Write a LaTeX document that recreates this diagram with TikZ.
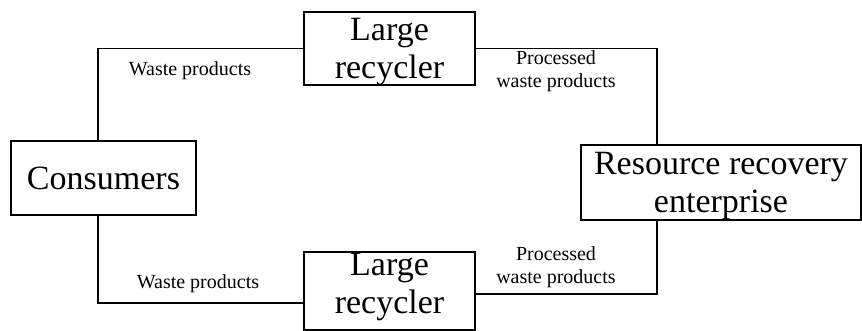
\documentclass[tikz,border=0pt]{standalone}
\usepackage{fontspec}
\setmainfont{Liberation Serif}
\usepackage{tikz}

\tikzset{
  box/.style={draw, line width=1.5pt, align=center, inner sep=0pt,
    font=\fontsize{34}{38}\selectfont},
  flowlabel/.style={align=center, inner sep=0pt,
    font=\fontsize{20}{23}\selectfont},
  link/.style={line width=1.5pt}
}

\begin{document}
\begin{tikzpicture}[x=1pt, y=-1pt]
  \useasboundingbox (0,0) rectangle (862,331);
  \node[box, minimum width=185pt, minimum height=74pt] (cons) at (103.5,178) {Consumers};
  \node[box, minimum width=171pt, minimum height=73pt, text depth=0pt] (top) at (389.5,48.5) {Large\\recycler};
  \node[box, minimum width=171pt, minimum height=78pt, text depth=14.5pt] (bot) at (389.5,291) {Large\\recycler};
  \node[box, minimum width=280pt, minimum height=75pt, text depth=1pt] (res) at (721,182.5) {Resource recovery\\enterprise};
  \draw[link] ([xshift=-5.5pt]cons.north) |- (top.west);
  \draw[link] ([xshift=-5.5pt]cons.south) |- ([yshift=-12pt]bot.west);
  \draw[link] (top.east) -| ([xshift=-64pt]res.north);
  \draw[link] ([yshift=-3pt]bot.east) -| ([xshift=-64pt]res.south);
  \node[flowlabel] (wtop) at (190,70.5) {Waste products};
  \node[flowlabel] (wbot) at (198,283.6) {Waste products};
  \node[flowlabel] (ptop) at (556,70.8) {Processed\\waste products};
  \node[flowlabel] (pbot) at (556,266.8) {Processed\\waste products};
\end{tikzpicture}
\end{document}
